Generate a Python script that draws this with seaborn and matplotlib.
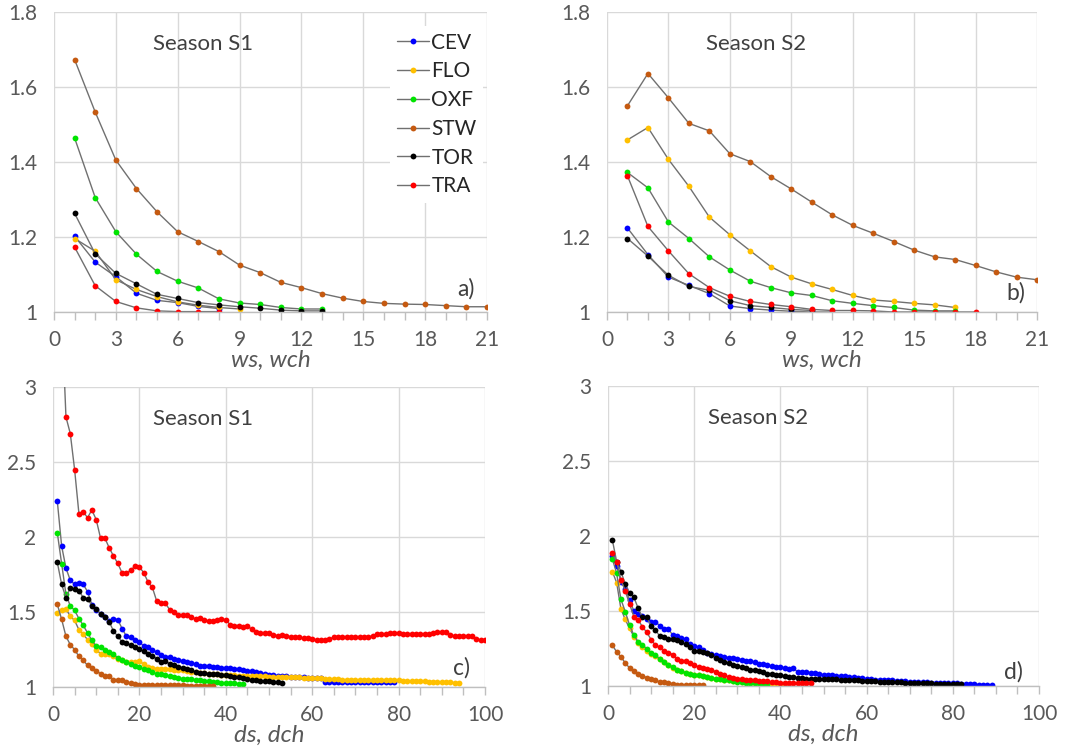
import numpy as np
import pandas as pd
import matplotlib
matplotlib.use("Agg")
import matplotlib.pyplot as plt
from matplotlib.ticker import MultipleLocator, FuncFormatter
import seaborn as sns

# ---------------- data ----------------
stations = ["CEV", "FLO", "OXF", "STW", "TOR", "TRA"]
colors = {"CEV": "#0000FF", "FLO": "#FFC000", "OXF": "#00E400",
          "STW": "#C55A11", "TOR": "#000000", "TRA": "#FF0000"}

# Season S1, weekly window (ws, wch)
a_CEV = [1.202, 1.133, 1.094, 1.050, 1.031, 1.025, 1.015, 1.009]
a_FLO = [1.196, 1.162, 1.086, 1.060, 1.041, 1.027, 1.018, 1.012, 1.008]
a_OXF = [1.464, 1.305, 1.214, 1.154, 1.108, 1.082, 1.064, 1.035, 1.024,
         1.020, 1.012, 1.008, 1.008]
a_STW = [1.673, 1.533, 1.405, 1.329, 1.267, 1.214, 1.188, 1.161, 1.125,
         1.105, 1.079, 1.065, 1.049, 1.037, 1.028, 1.023, 1.021, 1.020,
         1.017, 1.014, 1.014]
a_TOR = [1.263, 1.155, 1.103, 1.075, 1.047, 1.036, 1.025, 1.019, 1.014,
         1.010, 1.005, 1.003, 1.003]
a_TRA = [1.173, 1.070, 1.028, 1.011, 1.003, 1.001, 1.001, 1.001]

# Season S2, weekly window (ws, wch)
b_CEV = [1.224, 1.153, 1.093, 1.071, 1.049, 1.016, 1.009, 1.005, 1.002,
         1.000, 1.000]
b_FLO = [1.459, 1.492, 1.407, 1.335, 1.253, 1.206, 1.163, 1.121, 1.093,
         1.075, 1.060, 1.044, 1.032, 1.028, 1.023, 1.019, 1.012]
b_OXF = [1.372, 1.331, 1.240, 1.196, 1.147, 1.112, 1.082, 1.065, 1.051,
         1.044, 1.030, 1.023, 1.017, 1.012, 1.005, 1.003, 1.003]
b_STW = [1.550, 1.636, 1.571, 1.503, 1.483, 1.422, 1.401, 1.361, 1.328,
         1.293, 1.259, 1.231, 1.210, 1.188, 1.165, 1.147, 1.140, 1.124,
         1.107, 1.093, 1.086]
b_TOR = [1.196, 1.149, 1.098, 1.068, 1.058, 1.030, 1.017, 1.012, 1.007,
         1.004]
b_TRA = [1.363, 1.228, 1.163, 1.102, 1.065, 1.042, 1.028, 1.020, 1.014,
         1.007, 1.004, 1.004, 1.003, 1.000, 1.000, 1.000, 1.000, 1.000]

# Season S1, daily window (ds, dch)
c_CEV = [2.238, 1.940, 1.793, 1.711, 1.684, 1.691, 1.684, 1.636, 1.550, 1.515,
         1.490, 1.470, 1.440, 1.456, 1.449, 1.389, 1.338, 1.333, 1.311, 1.300,
         1.273, 1.267, 1.244, 1.233, 1.216, 1.198, 1.198, 1.187, 1.182, 1.173,
         1.167, 1.160, 1.153, 1.142, 1.138, 1.138, 1.133, 1.133, 1.127, 1.127,
         1.125, 1.122, 1.118, 1.113, 1.109, 1.104, 1.098, 1.093, 1.087, 1.082,
         1.078, 1.075, 1.073, 1.071, 1.069, 1.067, 1.067, 1.064, 1.062, 1.060,
         1.060, 1.058, 1.036, 1.034, 1.034, 1.034, 1.034, 1.034, 1.034, 1.034,
         1.034, 1.034, 1.034, 1.034, 1.034, 1.034, 1.034, 1.034, 1.034]
c_FLO = [1.496, 1.516, 1.522, 1.471, 1.444, 1.382, 1.351, 1.316, 1.289, 1.249,
         1.222, 1.218, 1.218, 1.204, 1.189, 1.178, 1.167, 1.167, 1.167, 1.173,
         1.151, 1.133, 1.129, 1.122, 1.122, 1.122, 1.120, 1.116, 1.116, 1.111,
         1.107, 1.102, 1.098, 1.093, 1.091, 1.089, 1.087, 1.084, 1.082, 1.080,
         1.078, 1.078, 1.076, 1.076, 1.073, 1.073, 1.071, 1.071, 1.071, 1.069,
         1.069, 1.067, 1.067, 1.067, 1.067, 1.064, 1.064, 1.062, 1.062, 1.060,
         1.058, 1.058, 1.056, 1.053, 1.051, 1.051, 1.049, 1.049, 1.049, 1.047,
         1.047, 1.047, 1.046, 1.046, 1.046, 1.045, 1.045, 1.044, 1.044, 1.044,
         1.042, 1.042, 1.040, 1.040, 1.038, 1.038, 1.036, 1.036, 1.033, 1.033,
         1.031, 1.031, 1.029, 1.029]
c_OXF = [2.027, 1.822, 1.618, 1.540, 1.511, 1.456, 1.411, 1.360, 1.311, 1.273,
         1.267, 1.249, 1.233, 1.218, 1.196, 1.182, 1.167, 1.156, 1.142, 1.133,
         1.120, 1.111, 1.098, 1.089, 1.084, 1.078, 1.073, 1.067, 1.060, 1.056,
         1.051, 1.051, 1.049, 1.044, 1.040, 1.038, 1.033, 1.031, 1.029, 1.027,
         1.026, 1.024, 1.023, 1.022]
c_STW = [1.551, 1.451, 1.338, 1.282, 1.249, 1.204, 1.178, 1.144, 1.129, 1.107,
         1.089, 1.073, 1.073, 1.049, 1.049, 1.049, 1.033, 1.027, 1.022, 1.016,
         1.016, 1.016, 1.016, 1.013, 1.013, 1.011, 1.011, 1.011, 1.011, 1.011,
         1.010, 1.010, 1.010, 1.010, 1.010, 1.010, 1.010]
c_TOR = [1.831, 1.684, 1.596, 1.660, 1.656, 1.642, 1.596, 1.589, 1.542, 1.518,
         1.489, 1.467, 1.436, 1.373, 1.338, 1.300, 1.293, 1.278, 1.267, 1.256,
         1.240, 1.222, 1.209, 1.189, 1.167, 1.171, 1.156, 1.144, 1.133, 1.129,
         1.122, 1.111, 1.100, 1.093, 1.093, 1.090, 1.087, 1.084, 1.082, 1.078,
         1.073, 1.069, 1.064, 1.060, 1.053, 1.049, 1.047, 1.042, 1.040, 1.038,
         1.036, 1.033, 1.029]
c_TRA = [4.300, 3.500, 2.800, 2.690, 2.450, 2.156, 2.167, 2.129, 2.180, 2.116,
         1.993, 1.993, 1.929, 1.873, 1.824, 1.760, 1.760, 1.778, 1.807, 1.800,
         1.762, 1.700, 1.664, 1.573, 1.562, 1.558, 1.516, 1.500, 1.478, 1.478,
         1.478, 1.469, 1.452, 1.462, 1.444, 1.440, 1.440, 1.444, 1.453, 1.449,
         1.415, 1.410, 1.410, 1.397, 1.404, 1.386, 1.365, 1.359, 1.363, 1.363,
         1.345, 1.343, 1.347, 1.340, 1.336, 1.336, 1.332, 1.327, 1.325, 1.323,
         1.314, 1.314, 1.314, 1.321, 1.332, 1.336, 1.336, 1.336, 1.336, 1.336,
         1.336, 1.336, 1.336, 1.340, 1.354, 1.354, 1.354, 1.359, 1.359, 1.359,
         1.354, 1.354, 1.356, 1.356, 1.354, 1.354, 1.356, 1.359, 1.366, 1.366,
         1.366, 1.348, 1.340, 1.340, 1.340, 1.340, 1.340, 1.320, 1.314, 1.314]

# Season S2, daily window (ds, dch)
d_CEV = [1.870, 1.800, 1.695, 1.650, 1.574, 1.500, 1.480, 1.469, 1.450, 1.429,
         1.429, 1.402, 1.382, 1.382, 1.339, 1.333, 1.318, 1.313, 1.283, 1.266,
         1.257, 1.243, 1.217, 1.212, 1.205, 1.200, 1.194, 1.190, 1.188, 1.182,
         1.176, 1.170, 1.165, 1.158, 1.150, 1.144, 1.138, 1.132, 1.127, 1.125,
         1.122, 1.116, 1.118, 1.094, 1.094, 1.094, 1.089, 1.085, 1.080, 1.076,
         1.073, 1.071, 1.069, 1.066, 1.064, 1.062, 1.058, 1.055, 1.051, 1.047,
         1.045, 1.043, 1.042, 1.040, 1.038, 1.037, 1.035, 1.033, 1.031, 1.029,
         1.028, 1.027, 1.025, 1.024, 1.022, 1.021, 1.020, 1.019, 1.018, 1.018,
         1.017, 1.016, 1.015, 1.014, 1.012, 1.010, 1.008, 1.006, 1.004]
d_FLO = [1.763, 1.690, 1.513, 1.444, 1.384, 1.330, 1.290, 1.260, 1.235, 1.215,
         1.198, 1.178, 1.160, 1.140, 1.122, 1.107, 1.098, 1.088, 1.082, 1.076,
         1.071, 1.067, 1.060, 1.056, 1.049, 1.047, 1.042, 1.038, 1.033, 1.031,
         1.027, 1.024, 1.020, 1.018, 1.016, 1.015, 1.013, 1.013, 1.011, 1.011,
         1.011]
d_OXF = [1.848, 1.752, 1.578, 1.496, 1.406, 1.339, 1.295, 1.272, 1.250, 1.221,
         1.205, 1.183, 1.161, 1.143, 1.127, 1.109, 1.100, 1.089, 1.083, 1.076,
         1.071, 1.067, 1.060, 1.054, 1.049, 1.045, 1.042, 1.038, 1.033, 1.030,
         1.027, 1.023, 1.020, 1.018, 1.017, 1.016, 1.015]
d_STW = [1.272, 1.228, 1.194, 1.154, 1.120, 1.098, 1.083, 1.067, 1.056, 1.049,
         1.038, 1.027, 1.024, 1.020, 1.016, 1.009, 1.009, 1.004, 1.004, 1.004,
         1.004, 1.004]
d_TOR = [1.975, 1.830, 1.763, 1.680, 1.618, 1.592, 1.518, 1.458, 1.458, 1.402,
         1.373, 1.333, 1.324, 1.315, 1.315, 1.306, 1.295, 1.279, 1.257, 1.234,
         1.234, 1.225, 1.217, 1.205, 1.190, 1.172, 1.160, 1.154, 1.143, 1.132,
         1.127, 1.120, 1.109, 1.105, 1.098, 1.094, 1.078, 1.078, 1.076, 1.071,
         1.067, 1.060, 1.058, 1.054, 1.054, 1.049, 1.049, 1.047, 1.047, 1.047,
         1.046, 1.045, 1.044, 1.043, 1.042, 1.041, 1.040, 1.038, 1.036, 1.033,
         1.032, 1.031, 1.030, 1.029, 1.028, 1.027, 1.026, 1.025, 1.023, 1.022,
         1.021, 1.020, 1.019, 1.018, 1.017, 1.016, 1.015, 1.014, 1.014, 1.013,
         1.013, 1.013]
d_TRA = [1.886, 1.830, 1.708, 1.634, 1.547, 1.462, 1.440, 1.395, 1.357, 1.310,
         1.272, 1.257, 1.234, 1.223, 1.210, 1.179, 1.167, 1.165, 1.154, 1.138,
         1.127, 1.120, 1.116, 1.109, 1.094, 1.078, 1.071, 1.060, 1.054, 1.049,
         1.045, 1.043, 1.042, 1.038, 1.033, 1.031, 1.031, 1.027, 1.027, 1.022,
         1.022, 1.022, 1.022, 1.022, 1.022, 1.022, 1.022]

panels = [
    dict(series=dict(CEV=a_CEV, FLO=a_FLO, OXF=a_OXF, STW=a_STW, TOR=a_TOR, TRA=a_TRA),
         title="Season S1", tag="a)", xlabel="ws, wch", xmax=21, xmaj=3, xmin=1,
         ylim=(1.0, 1.8), ymaj=0.2),
    dict(series=dict(CEV=b_CEV, FLO=b_FLO, OXF=b_OXF, STW=b_STW, TOR=b_TOR, TRA=b_TRA),
         title="Season S2", tag="b)", xlabel="ws, wch", xmax=21, xmaj=3, xmin=1,
         ylim=(1.0, 1.8), ymaj=0.2),
    dict(series=dict(CEV=c_CEV, FLO=c_FLO, OXF=c_OXF, STW=c_STW, TOR=c_TOR, TRA=c_TRA),
         title="Season S1", tag="c)", xlabel="ds, dch", xmax=100, xmaj=20, xmin=5,
         ylim=(1.0, 3.0), ymaj=0.5),
    dict(series=dict(CEV=d_CEV, FLO=d_FLO, OXF=d_OXF, STW=d_STW, TOR=d_TOR, TRA=d_TRA),
         title="Season S2", tag="d)", xlabel="ds, dch", xmax=100, xmaj=20, xmin=5,
         ylim=(1.0, 3.0), ymaj=0.5),
]

# ---------------- style ----------------
sns.set_theme(style="white")
plt.rcParams["font.family"] = ["Lato", "DejaVu Sans"]
TEXT = "#595959"
GRID = "#D9D9D9"
AXIS = "#BFBFBF"
LINE = "#707070"

W, H = 1083, 754
fig = plt.figure(figsize=(W / 100, H / 100), dpi=100)
fig.patch.set_facecolor("white")

# axes boxes in pixels: left, right, top, bottom
boxes = [(54, 487, 12, 312), (607, 1037, 12, 312),
         (53, 485, 387, 687), (608, 1039, 386, 686)]
title_pos = [(203, 44), (756, 44), (203, 419), (758, 418)]
tag_pos = [(466, 289), (1016, 293), (462, 668), (1013, 672)]

for p, (l, r, t, b), (tx, ty), (gx, gy) in zip(panels, boxes, title_pos, tag_pos):
    ax = fig.add_axes([l / W, 1 - b / H, (r - l) / W, (b - t) / H])
    ax.set_facecolor("white")
    for name in stations:
        ys = p["series"][name]
        xs = np.arange(1, len(ys) + 1)
        df = pd.DataFrame({"x": xs, "y": ys})
        sns.lineplot(data=df, x="x", y="y", ax=ax, color=LINE, lw=1.0,
                     marker="o", markersize=4.2, markerfacecolor=colors[name],
                     markeredgecolor=colors[name], markeredgewidth=0,
                     label=name, legend=False, sort=False, estimator=None)
    ax.set_xlim(0, p["xmax"])
    ax.set_ylim(*p["ylim"])
    ax.xaxis.set_major_locator(MultipleLocator(p["xmaj"]))
    ax.xaxis.set_minor_locator(MultipleLocator(p["xmin"]))
    ax.yaxis.set_major_locator(MultipleLocator(p["ymaj"]))
    ax.yaxis.set_major_formatter(FuncFormatter(lambda v, pos: f"{v:g}"))
    ax.grid(True, which="major", color=GRID, lw=1.0)
    ax.set_axisbelow(True)
    for s in ["top", "right", "left"]:
        ax.spines[s].set_visible(False)
    ax.spines["bottom"].set_color(AXIS)
    ax.spines["bottom"].set_linewidth(1.0)
    ax.tick_params(axis="x", which="both", direction="out", color=AXIS,
                   length=6, width=1.0, bottom=True, labelsize=15,
                   labelcolor=TEXT, pad=7)
    ax.tick_params(axis="y", length=0, labelsize=15, labelcolor=TEXT, pad=12)
    ax.set_xlabel(p["xlabel"], fontsize=17.5, color=TEXT, style="italic", labelpad=0)
    ax.set_ylabel("")
    fig.text(tx / W, 1 - ty / H, p["title"], fontsize=16, color="#404040",
             ha="center", va="center")
    fig.text(gx / W, 1 - gy / H, p["tag"], fontsize=16.5, color="#404040",
             ha="center", va="center")
    if p["tag"] == "a)":
        leg = ax.legend(loc="upper left", bbox_to_anchor=(380 / W, 1 - 16 / H),
                        bbox_transform=fig.transFigure, frameon=True,
                        fontsize=15, labelspacing=0.42, handlelength=1.55,
                        handletextpad=0.12, borderpad=0.3, markerscale=1.0)
        leg.get_frame().set_facecolor("white")
        leg.get_frame().set_edgecolor("none")
        leg.get_frame().set_alpha(1.0)
        for txt in leg.get_texts():
            txt.set_color("#262626")

fig.savefig("out.png", dpi=100, facecolor="white")
